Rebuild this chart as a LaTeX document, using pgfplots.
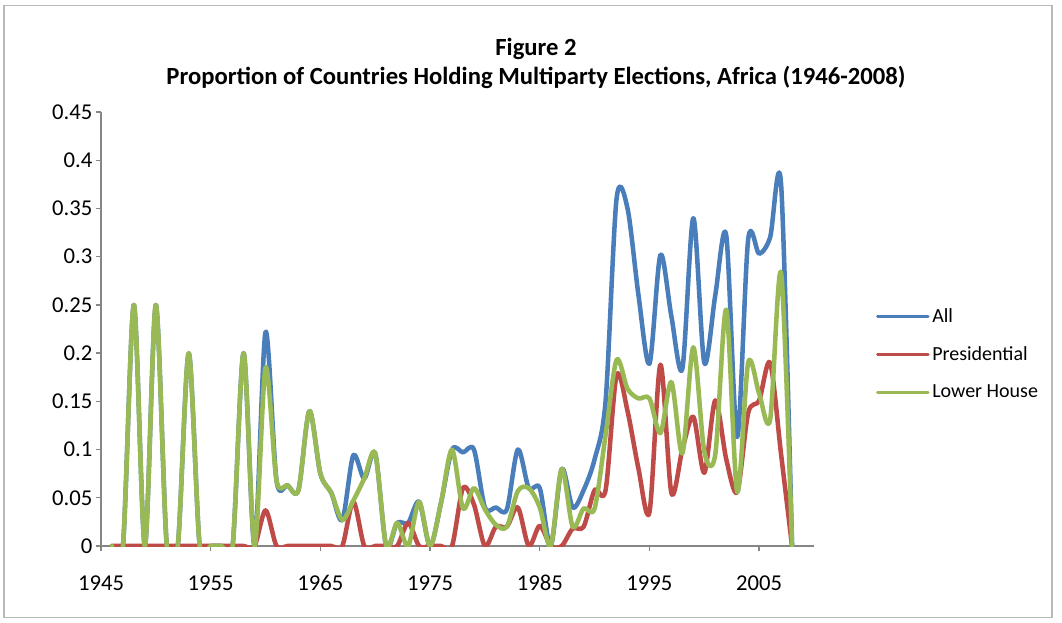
\documentclass[border=0pt]{standalone}
\usepackage{fontspec}
\setmainfont{Carlito}
\usepackage{pgfplots}
\usepackage{pgfplotstable}
\pgfplotsset{compat=1.18}
\definecolor{cAll}{HTML}{4A7EBB}
\definecolor{cPres}{HTML}{BE4B48}
\definecolor{cLow}{HTML}{98B954}
\definecolor{axgray}{HTML}{868686}

\pgfplotstableread{
year all pres lower
1946 0 0 0
1947 0 0 0
1948 0.25 0 0.25
1949 0 0 0
1950 0.25 0 0.25
1951 0 0 0
1952 0 0 0
1953 0.2 0 0.2
1954 0 0 0
1955 0 0 0
1956 0 0 0
1957 0 0 0
1958 0.2 0 0.2
1959 0 0 0
1960 0.222 0.037 0.185
1961 0.068 0 0.068
1962 0.063 0 0.063
1963 0.058 0 0.058
1964 0.14 0 0.14
1965 0.075 0 0.075
1966 0.055 0 0.055
1967 0.027 0 0.027
1968 0.094 0.046 0.047
1969 0.07 0 0.07
1970 0.096 0 0.096
1971 0 0 0
1972 0.024 0 0.024
1973 0.024 0.024 0
1974 0.046 0 0.046
1975 0 0 0
1976 0.045 0 0.045
1977 0.1 0 0.1
1978 0.097 0.06 0.039
1979 0.1 0.043 0.06
1980 0.04 0 0.038
1981 0.04 0.02 0.022
1982 0.038 0.02 0.02
1983 0.1 0.04 0.057
1984 0.06 0 0.06
1985 0.06 0.021 0.04
1986 0 0 0
1987 0.08 0 0.08
1988 0.04 0.018 0.02
1989 0.058 0.02 0.039
1990 0.09 0.058 0.039
1991 0.15 0.058 0.115
1992 0.36 0.177 0.193
1993 0.35 0.14 0.163
1994 0.26 0.08 0.153
1995 0.189 0.035 0.153
1996 0.302 0.188 0.117
1997 0.238 0.055 0.17
1998 0.184 0.1 0.096
1999 0.34 0.134 0.206
2000 0.19 0.076 0.098
2001 0.26 0.151 0.095
2002 0.322 0.09 0.245
2003 0.113 0.056 0.056
2004 0.318 0.138 0.19
2005 0.303 0.151 0.158
2006 0.32 0.19 0.131
2007 0.375 0.095 0.283
2008 0 0 0
}\data

\begin{document}
\begin{tikzpicture}
\path[use as bounding box] (0,0) rectangle (796.5pt,466.5pt);
\draw[gray!55, line width=1.2pt] (3pt,3.5pt) rectangle (789pt,462.5pt);
\node[font=\bfseries\fontsize{18.5}{22}\selectfont] at (402pt,429.5pt) {Figure 2};
\node[font=\bfseries\fontsize{18.5}{22}\selectfont] at (402pt,408.5pt) {Proportion of Countries Holding Multiparty Elections, Africa (1946-2008)};
\begin{axis}[
  at={(75.75pt,57pt)}, anchor=south west,
  scale only axis,
  width=534.75pt, height=325.5pt,
  xmin=1945, xmax=2010, ymin=0, ymax=0.45,
  axis lines*=left,
  axis line style={axgray, line width=1pt},
  tick style={axgray, line width=1pt},
  tick align=outside,
  major tick length=4pt,
  xtick={1945,1955,1965,1975,1985,1995,2005},
  xticklabels={1945,1955,1965,1975,1985,1995,2005},
  ytick={0,0.05,0.1,0.15,0.2,0.25,0.3,0.35,0.4,0.45},
  yticklabels={0,0.05,0.1,0.15,0.2,0.25,0.3,0.35,0.4,0.45},
  ticklabel style={font=\fontsize{17}{20}\selectfont, text=black},
  xticklabel style={anchor=north, text height=12pt, text depth=0pt, yshift=-14pt},
  yticklabel style={xshift=1pt},
  legend style={at={(1.081,0.442)}, anchor=west, draw=none, fill=none,
    font=\fontsize{15}{18}\selectfont, row sep=12.6pt, cells={anchor=west},
    /tikz/every even column/.append style={column sep=1pt}},
  legend image code/.code={\draw[#1, line width=2.2pt] (0pt,0pt) -- (38pt,0pt);},
  every axis plot/.append style={line width=3.4pt, smooth, tension=0.5, line join=round, line cap=round},
]
\addplot[cAll] table[x=year, y=all] {\data};
\addlegendentry{All}
\addplot[cPres] table[x=year, y=pres] {\data};
\addlegendentry{Presidential}
\addplot[cLow] table[x=year, y=lower] {\data};
\addlegendentry{Lower House}
\end{axis}
\end{tikzpicture}
\end{document}
